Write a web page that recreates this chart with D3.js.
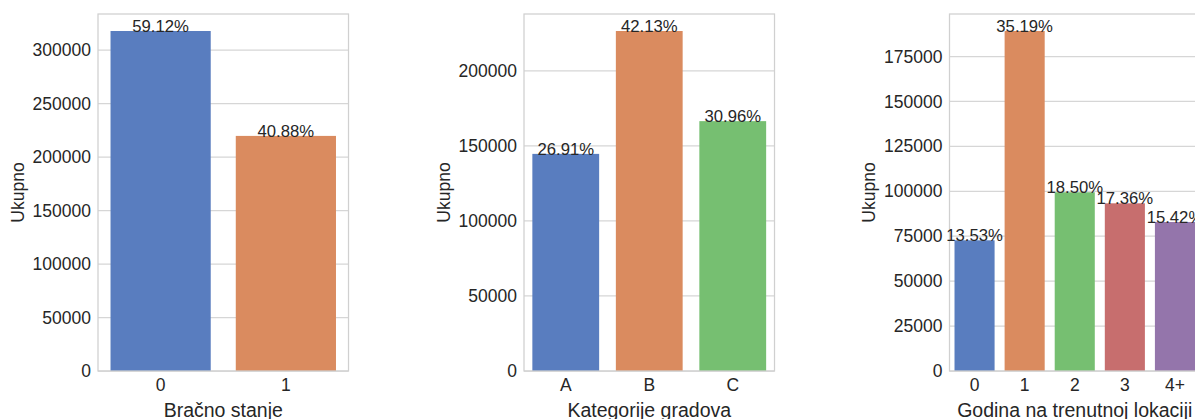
<!DOCTYPE html>
<html>
<head>
<meta charset="utf-8">
<script src="https://cdn.jsdelivr.net/npm/d3@7"></script>
<style>
  html, body { margin: 0; padding: 0; background: #ffffff; overflow: hidden; }
  svg text { font-family: "Liberation Sans", Arial, Helvetica, sans-serif; fill: #262626; }
</style>
</head>
<body>
<svg id="chart" width="1195" height="419"></svg>
<script>
// ---- data ----
const maritalCategories = ["0", "1"];
const maritalCounts = [317817, 219760];
const maritalTicks = [0, 50000, 100000, 150000, 200000, 250000, 300000];

const cityCategories = ["A", "B", "C"];
const cityCounts = [144638, 226493, 166446];
const cityTicks = [0, 50000, 100000, 150000, 200000];

const stayCategories = ["0", "1", "2", "3", "4+"];
const stayCounts = [72725, 189192, 99459, 93312, 82889];
const stayTicks = [0, 25000, 50000, 75000, 100000, 125000, 150000, 175000];

const xLabels = ["Bračno stanje", "Kategorije gradova", "Godina na trenutnoj lokaciji"];
const yLabel = "Ukupno";
const palette = ["#597DBF", "#DA8B5F", "#76BF71", "#C76E6E", "#9475AB"];

// ---- layout ----
const panels = [
  { cats: maritalCategories, vals: maritalCounts, ticks: maritalTicks, xlabel: xLabels[0], left: 98 },
  { cats: cityCategories, vals: cityCounts, ticks: cityTicks, xlabel: xLabels[1], left: 524 },
  { cats: stayCategories, vals: stayCounts, ticks: stayTicks, xlabel: xLabels[2], left: 949.5 }
];
const axW = 250.5, axTop = 14, axBottom = 371;
const svg = d3.select("#chart");

panels.forEach(p => {
  const total = d3.sum(p.vals);
  const g = svg.append("g");
  const x = d3.scaleBand().domain(p.cats).range([p.left, p.left + axW]).paddingInner(0.2).paddingOuter(0.1);
  const y = d3.scaleLinear().domain([0, d3.max(p.vals) * 1.05]).range([axBottom, axTop]);

  // grid
  g.append("g").selectAll("line").data(p.ticks).join("line")
    .attr("x1", p.left).attr("x2", p.left + axW)
    .attr("y1", d => y(d)).attr("y2", d => y(d))
    .attr("stroke", "#d6d6d6").attr("stroke-width", 1.25);

  // bars
  g.append("g").selectAll("rect").data(p.vals).join("rect")
    .attr("x", (d, i) => x(p.cats[i]))
    .attr("width", x.bandwidth())
    .attr("y", d => y(d))
    .attr("height", d => axBottom - y(d))
    .attr("fill", (d, i) => palette[i]);

  // frame
  g.append("rect").attr("x", p.left).attr("y", axTop).attr("width", axW).attr("height", axBottom - axTop)
    .attr("fill", "none").attr("stroke", "#d0d0d0").attr("stroke-width", 1.25);

  // y axis
  const yAxis = d3.axisLeft(y).tickValues(p.ticks).tickSize(0).tickPadding(7).tickFormat(d3.format("d"));
  const ya = g.append("g").attr("transform", `translate(${p.left},0)`).call(yAxis);
  ya.select(".domain").remove();
  ya.selectAll("text").style("font-size", "17.5px").attr("fill", "#262626").attr("font-family", null);

  // x axis
  const xAxis = d3.axisBottom(x).tickSize(0).tickPadding(8);
  const xa = g.append("g").attr("transform", `translate(0,${axBottom})`).call(xAxis);
  xa.select(".domain").remove();
  xa.selectAll("text").style("font-size", "17.5px").attr("fill", "#262626").attr("font-family", null);

  // percentage labels
  g.append("g").selectAll("text").data(p.vals).join("text")
    .attr("x", (d, i) => x(p.cats[i]) + x.bandwidth() / 2)
    .attr("y", d => y(d) + 1)
    .attr("text-anchor", "middle")
    .style("font-size", "16.7px")
    .text(d => (d / total * 100).toFixed(2) + "%");

  // x label
  g.append("text")
    .attr("x", p.left + axW / 2).attr("y", 416.5)
    .attr("text-anchor", "middle")
    .style("font-size", "19.5px")
    .text(p.xlabel);

  // y label
  g.append("text")
    .attr("transform", `translate(${p.left - 74.5},${(axTop + axBottom) / 2}) rotate(-90)`)
    .attr("text-anchor", "middle")
    .style("font-size", "17.5px")
    .text(yLabel);
});
</script>
</body>
</html>
